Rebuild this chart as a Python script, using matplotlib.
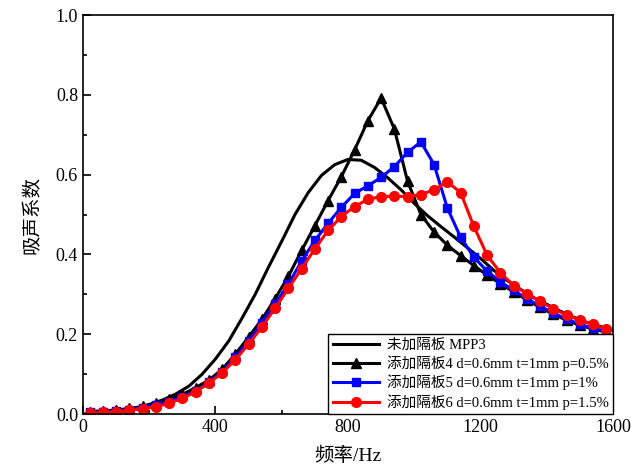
import numpy as np
import matplotlib
matplotlib.use("Agg")
import matplotlib.pyplot as plt
from matplotlib.ticker import MultipleLocator

plt.rcParams['font.family'] = ['Liberation Serif', 'Noto Sans CJK SC']
plt.rcParams['mathtext.fontset'] = 'stix'

# smooth reference curve, every 40 Hz
freq_ref = np.arange(0, 1601, 40)
mpp3 = [0, 0.001, 0.003, 0.007, 0.014, 0.024, 0.035, 0.05, 0.07, 0.10,
        0.138, 0.183, 0.24, 0.30, 0.368, 0.433, 0.50, 0.555, 0.598, 0.625,
        0.638, 0.636, 0.618, 0.592, 0.562, 0.528, 0.497, 0.47, 0.444, 0.417,
        0.39, 0.36, 0.335, 0.313, 0.292, 0.275, 0.258, 0.243, 0.23, 0.22, 0.21]

# marker curves, 20..1580 Hz every 40 Hz
freq = np.arange(20, 1600, 40)
plate4 = [0.006, 0.008, 0.010, 0.014, 0.019, 0.027, 0.037, 0.049, 0.066, 0.085,
          0.112, 0.150, 0.193, 0.237, 0.289, 0.345, 0.41, 0.472, 0.535, 0.595,
          0.662, 0.735, 0.792, 0.714, 0.583, 0.50, 0.456, 0.423, 0.397, 0.372,
          0.348, 0.327, 0.306, 0.286, 0.267, 0.250, 0.235, 0.222, 0.213, 0.205]
plate5 = [0.004, 0.006, 0.008, 0.011, 0.016, 0.022, 0.031, 0.042, 0.058, 0.079,
          0.106, 0.142, 0.183, 0.228, 0.275, 0.326, 0.383, 0.435, 0.478, 0.518,
          0.553, 0.572, 0.593, 0.62, 0.656, 0.682, 0.625, 0.516, 0.443, 0.393,
          0.358, 0.331, 0.31, 0.289, 0.27, 0.253, 0.238, 0.225, 0.215, 0.207]
plate6 = [0.003, 0.004, 0.006, 0.009, 0.013, 0.018, 0.027, 0.039, 0.056, 0.077,
          0.103, 0.136, 0.175, 0.218, 0.265, 0.315, 0.364, 0.414, 0.46, 0.495,
          0.52, 0.538, 0.545, 0.546, 0.545, 0.55, 0.562, 0.582, 0.555, 0.47,
          0.398, 0.354, 0.322, 0.302, 0.282, 0.264, 0.248, 0.235, 0.225, 0.212]

labels = ['未加隔板 MPP3',
          '添加隔板4 d=0.6mm t=1mm p=0.5%',
          '添加隔板5 d=0.6mm t=1mm p=1%',
          '添加隔板6 d=0.6mm t=1mm p=1.5%']

fig = plt.figure(figsize=(6.31, 4.75), dpi=100)
ax = fig.add_axes([0.1315, 0.1284, 0.84, 0.84])

lw = 2.2
ax.plot(freq_ref, mpp3, color='black', lw=lw, label=labels[0])
ax.plot(freq, plate4, color='black', lw=lw, marker='^', ms=7, label=labels[1])
ax.plot(freq, plate5, color='#0000ff', lw=lw, marker='s', ms=6, label=labels[2])
ax.plot(freq, plate6, color='#ff0000', lw=lw, marker='o', ms=7, label=labels[3])

ax.set_xlim(0, 1600)
ax.set_ylim(0, 1.0)
ax.xaxis.set_major_locator(MultipleLocator(400))
ax.xaxis.set_minor_locator(MultipleLocator(200))
ax.yaxis.set_major_locator(MultipleLocator(0.2))
ax.yaxis.set_minor_locator(MultipleLocator(0.1))
ax.yaxis.set_major_formatter(plt.FormatStrFormatter('%.1f'))
ax.tick_params(which='both', direction='in', labelsize=13, width=1.2)
ax.tick_params(which='major', length=6)
ax.tick_params(which='minor', length=3)
for s in ax.spines.values():
    s.set_linewidth(1.2)

ax.set_xlabel('频率/Hz', fontsize=14, labelpad=8)
ax.set_ylabel('吸声系数', fontsize=14, labelpad=10)

leg = ax.legend(loc='lower right', borderaxespad=0, fontsize=10.5,
                fancybox=False, edgecolor='black', framealpha=1,
                handlelength=3.2, labelspacing=0.25, borderpad=0.3,
                handletextpad=0.5)
leg.get_frame().set_linewidth(1.0)

fig.savefig('out.png', dpi=100)
